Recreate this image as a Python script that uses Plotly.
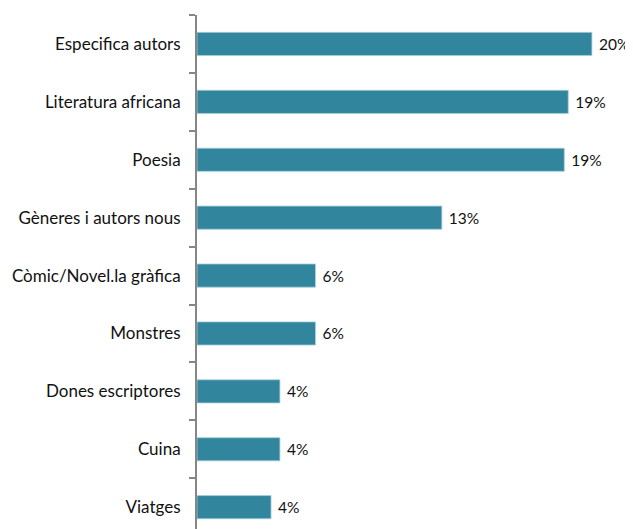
import plotly.graph_objects as go

categories = ["Especifica autors", "Literatura africana", "Poesia",
              "Gèneres i autors nous", "Còmic/Novel.la gràfica", "Monstres",
              "Dones escriptores", "Cuina", "Viatges"]
values = [20.0, 18.8, 18.6, 12.4, 6.0, 6.0, 4.2, 4.2, 3.75]
value_labels = ["20%", "19%", "19%", "13%", "6%", "6%", "4%", "4%", "4%"]

fig = go.Figure(go.Bar(
    y=categories, x=values, orientation="h",
    marker=dict(color="#31859C", line=dict(color="#A9CFDB", width=0.8)),
    text=["\u00a0" + t for t in value_labels], textposition="outside",
    cliponaxis=False, textfont=dict(size=15.5, color="#111111"),
))

# the page body adds an 8px margin, so the figure is sized to the remaining area
fig.update_layout(
    width=625, height=521,
    margin=dict(l=189, r=0, t=7, b=0, autoexpand=False),
    paper_bgcolor="white", plot_bgcolor="white",
    font=dict(family="Lato, Carlito, Open Sans, sans-serif", size=17, color="#111111"),
    bargap=0.6, showlegend=False,
)
fig.update_xaxes(range=[0, 22.08], visible=False, automargin=False)
fig.update_yaxes(
    range=[8.377, -0.5], showline=True, linecolor="#868686", linewidth=2,
    ticks="outside", tickson="boundaries", ticklen=6, tickcolor="#868686",
    tickwidth=1.5, showgrid=False, ticklabelstandoff=11, automargin=False,
)
fig.write_html("out.html")
